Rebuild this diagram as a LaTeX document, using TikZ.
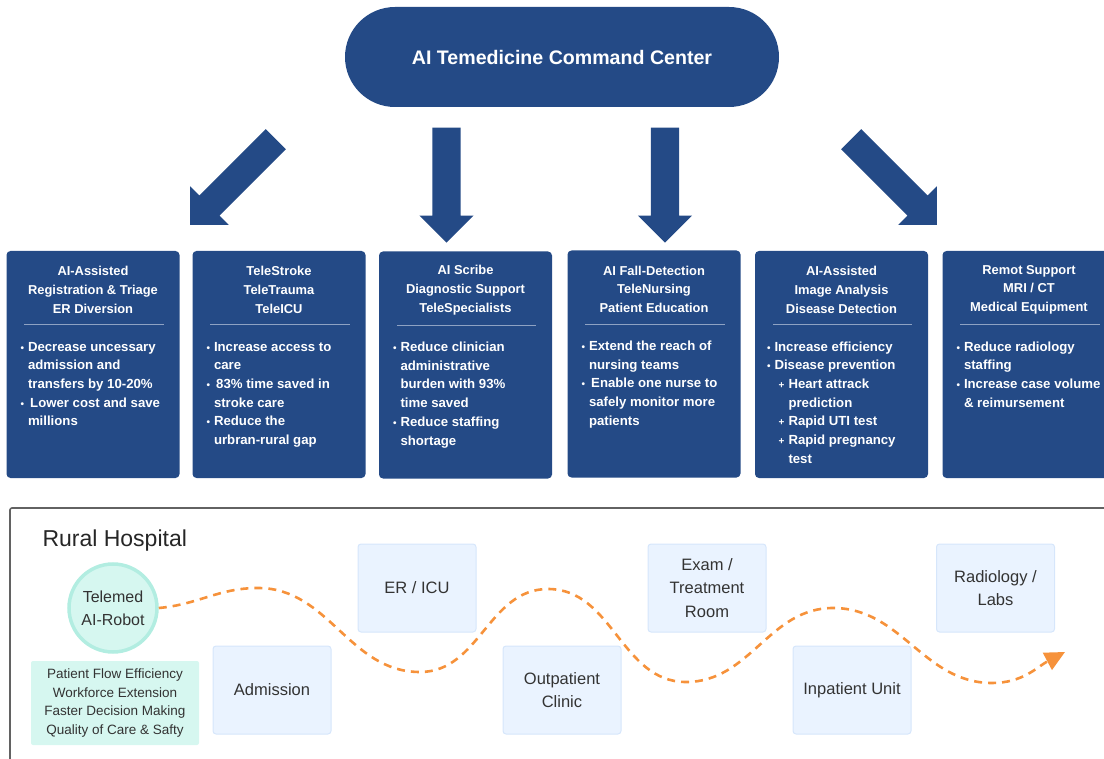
\documentclass[tikz,border=0pt]{standalone}
\usepackage{fontspec}
\setmainfont{Liberation Sans}
\usetikzlibrary{positioning,shapes.arrows,arrows.meta}

\definecolor{navy}{HTML}{244A86}
\definecolor{roomfill}{HTML}{EAF3FF}
\definecolor{roomline}{HTML}{D6E6FB}
\definecolor{mint}{HTML}{D6F7F0}
\definecolor{mintline}{HTML}{B2EDE1}
\definecolor{flow}{HTML}{F6923B}
\definecolor{ink}{HTML}{333333}
\definecolor{seprule}{HTML}{8EA2C3}
\definecolor{frame}{HTML}{626262}

\newcommand{\bul}{{\fontsize{10}{10}\selectfont\textbullet}}
\newcommand{\subitm}{\hspace{4pt}\makebox[10pt][l]{\fontsize{10}{10}\selectfont+}}

\tikzset{
  command/.style={fill=navy, text=white, rounded corners=50pt, minimum width=434pt,
    minimum height=100pt, font=\fontsize{19.6}{22}\selectfont\bfseries},
  bigarrow/.style={single arrow, fill=navy, inner xsep=0pt, inner ysep=14pt,
    single arrow head extend=13pt, minimum height=#1, anchor=tip},
  darkbox/.style={fill=navy, rounded corners=4pt, minimum width=173pt, minimum height=227pt},
  boxtitle/.style={text=white, font=\fontsize{12.9}{18.7}\selectfont\bfseries, align=center},
  boxbody/.style={text=white, font=\fontsize{13.2}{18.7}\selectfont\bfseries,
    anchor=north west, inner sep=0pt},
  sepline/.style={draw=seprule, line width=0.6pt},
  roombox/.style={fill=roomfill, draw=roomline, line width=1pt, rounded corners=3pt,
    minimum width=118pt, minimum height=88pt, text=ink,
    font=\fontsize{16.5}{23.5}\selectfont, align=center},
  robot/.style={circle, fill=mint, draw=mintline, line width=3.5pt, minimum size=88pt,
    text=ink, font=\fontsize{16}{23}\selectfont, align=center},
  gains/.style={fill=mint, rounded corners=2pt, minimum width=168pt, minimum height=84pt,
    text=ink, font=\fontsize{13.5}{18.7}\selectfont, align=center},
  flowline/.style={draw=flow, line width=2.6pt, dash pattern=on 8pt off 6pt,
    -{Triangle[width=19pt,length=20pt]}}
}

\begin{document}
\begin{tikzpicture}[x=1pt,y=1pt]
  \useasboundingbox (0,0) rectangle (1104,-759);
  \clip (0,0) rectangle (1104,-759);

  % command center
  \node[command] (cc) at (562,-57) {AI Temedicine Command Center};

  % block arrows
  \node[bigarrow=121pt, rotate=225] (a1) at (190,-225) {};
  \node[bigarrow=115pt, rotate=-90] (a2) at (446.5,-243) {};
  \node[bigarrow=115pt, rotate=-90] (a3) at (665,-243) {};
  \node[bigarrow=121pt, rotate=-45] (a4) at (937,-225) {};

  % services
  \node[darkbox] (reg) at (93,-364.5) {};
  \node[boxtitle] (reg-t) at ([yshift=-39]reg.north) {AI-Assisted\\Registration \& Triage\\ER Diversion};
  \draw[sepline] ([xshift=18,yshift=-74]reg.north west) -- ([xshift=-16,yshift=-74]reg.north east);
  \node[boxbody] (reg-b) at ([xshift=14,yshift=-87]reg.north west) {%
    \begin{tabular}{@{}l@{\hspace{4pt}}l@{}}
    \bul & Decrease uncessary\\
         & admission and\\
         & transfers by 10-20\%\\
    \bul & \,Lower cost and save\\
         & millions
    \end{tabular}};

  \node[darkbox] (tele) at (279,-364.5) {};
  \node[boxtitle] (tele-t) at ([yshift=-39]tele.north) {TeleStroke\\TeleTrauma\\TeleICU};
  \draw[sepline] ([xshift=18,yshift=-74]tele.north west) -- ([xshift=-16,yshift=-74]tele.north east);
  \node[boxbody] (tele-b) at ([xshift=14,yshift=-87]tele.north west) {%
    \begin{tabular}{@{}l@{\hspace{4pt}}l@{}}
    \bul & Increase access to\\
         & care\\
    \bul & \,83\% time saved in\\
         & stroke care\\
    \bul & Reduce the\\
         & urbran-rural gap
    \end{tabular}};

  \node[darkbox] (scribe) at (465.5,-365) {};
  \node[boxtitle] (scribe-t) at ([yshift=-39]scribe.north) {AI Scribe\\Diagnostic Support\\TeleSpecialists};
  \draw[sepline] ([xshift=18,yshift=-74]scribe.north west) -- ([xshift=-16,yshift=-74]scribe.north east);
  \node[boxbody] (scribe-b) at ([xshift=14,yshift=-87]scribe.north west) {%
    \begin{tabular}{@{}l@{\hspace{4pt}}l@{}}
    \bul & Reduce clinician\\
         & administrative\\
         & burden with 93\%\\
         & time saved\\
    \bul & Reduce staffing\\
         & shortage
    \end{tabular}};

  \node[darkbox] (fall) at (654,-364) {};
  \node[boxtitle] (fall-t) at ([yshift=-39]fall.north) {AI Fall-Detection\\TeleNursing\\Patient Education};
  \draw[sepline] ([xshift=18,yshift=-74]fall.north west) -- ([xshift=-16,yshift=-74]fall.north east);
  \node[boxbody] (fall-b) at ([xshift=14,yshift=-87]fall.north west) {%
    \begin{tabular}{@{}l@{\hspace{4pt}}l@{}}
    \bul & Extend the reach of\\
         & nursing teams\\
    \bul & \,Enable one nurse to\\
         & safely monitor more\\
         & patients
    \end{tabular}};

  \node[darkbox] (image) at (841.5,-364.5) {};
  \node[boxtitle] (image-t) at ([yshift=-39]image.north) {AI-Assisted\\Image Analysis\\Disease Detection};
  \draw[sepline] ([xshift=18,yshift=-74]image.north west) -- ([xshift=-16,yshift=-74]image.north east);
  \node[boxbody] (image-b) at ([xshift=12,yshift=-87]image.north west) {%
    \begin{tabular}{@{}l@{\hspace{4pt}}l@{}}
    \bul & Increase efficiency\\
    \bul & Disease prevention\\
         & \subitm Heart attrack\\
         & \hspace{14pt}prediction\\
         & \subitm Rapid UTI test\\
         & \subitm Rapid pregnancy\\
         & \hspace{14pt}test
    \end{tabular}};

  \node[darkbox] (remote) at (1029,-364.5) {};
  \node[boxtitle] (remote-t) at ([yshift=-39]remote.north) {Remot Support\\MRI / CT\\Medical Equipment};
  \draw[sepline] ([xshift=18,yshift=-74]remote.north west) -- ([xshift=-16,yshift=-74]remote.north east);
  \node[boxbody] (remote-b) at ([xshift=14,yshift=-87]remote.north west) {%
    \begin{tabular}{@{}l@{\hspace{4pt}}l@{}}
    \bul & Reduce radiology\\
         & staffing\\
    \bul & Increase case volume\\
         & \& reimursement
    \end{tabular}};

  % rural hospital
  \draw[frame, line width=1.6pt, rounded corners=2pt] (10,-508) rectangle (1130,-790);
  \node[anchor=west, text=black!85, font=\fontsize{23}{26}\selectfont] (rural) at (39,-541) {Rural Hospital};

  \node[robot] (bot) at (113,-608) {Telemed\\AI-Robot};
  \node[gains] (gain) at (115,-703) {Patient Flow Efficiency\\Workforce Extension\\Faster Decision Making\\Quality of Care \& Safty};

  \node[roombox] (adm) at (272,-690) {Admission};
  \node[roombox] (er) at (417,-588) {ER / ICU};
  \node[roombox] (outp) at (562,-690) {Outpatient\\Clinic};
  \node[roombox] (exam) at (707,-588) {Exam /\\Treatment\\Room};
  \node[roombox] (inp) at (852,-690) {Inpatient Unit};
  \node[roombox] (rad) at (995.5,-588) {Radiology /\\Labs};

  \coordinate (bend1) at (258,-588);
  \coordinate (bend2) at (420,-672);
  \coordinate (bend3) at (548,-589);
  \coordinate (bend4) at (686,-682);
  \coordinate (bend5) at (833,-608);
  \coordinate (bend6) at (992,-683);
  \coordinate (flowend) at (1065,-652);

  \draw[flowline] (bot.east) to[out=5,in=180] (bend1) to[out=0,in=180] (bend2)
    to[out=0,in=180] (bend3) to[out=0,in=180] (bend4) to[out=0,in=180] (bend5)
    to[out=0,in=180] (bend6) to[out=0,in=208] (flowend);
\end{tikzpicture}
\end{document}
